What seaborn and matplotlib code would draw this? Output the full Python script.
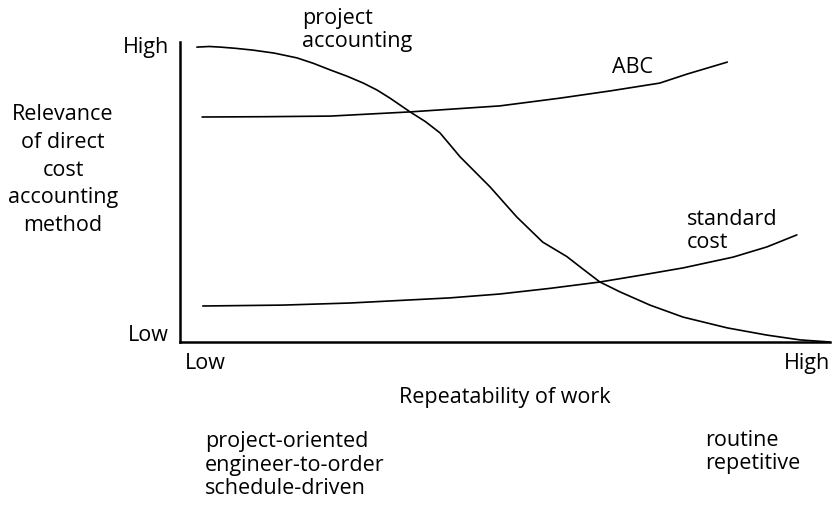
# relevância dos métodos de custeio vs repetibilidade do trabalho

import matplotlib
matplotlib.use("Agg")
import matplotlib.pyplot as plt
import seaborn as sns

# Curvas (x: 0-100 repetibilidade, y: 0-100 relevância)
proj_x = [2.6, 4.5, 6.2, 8.5, 11.2, 14.5, 18, 20.5, 23.1, 25.7, 28.2, 30.3, 32.3, 35.4,
          37.8, 40, 43.1, 47.7, 51.8, 55.8, 59.5, 62, 64.6, 67.7, 72.3, 77.4,
          84.2, 90.3, 95.4, 100]
proj_y = [98.3, 98.5, 98.3, 97.9, 97.3, 96.3, 94.7, 92.9, 90.7, 88.6, 86.3, 84, 81.3, 76.7,
          73.4, 69.7, 61.7, 51.7, 41.7, 33.3, 28.5, 24.3, 20, 16.7, 12.3, 8.3,
          4.7, 2.3, 0.7, 0]

abc_x = [3.4, 13, 23.1, 35.4, 49.2, 58.5, 66.2, 73.8, 78, 84.2]
abc_y = [75, 75.1, 75.3, 76.7, 78.7, 81.3, 83.7, 86.3, 89.3, 93.3]

std_x = [3.5, 15.8, 26.2, 41.5, 49.2, 57, 64.6, 71, 77.4, 85.1, 90.3, 94.9]
std_y = [12, 12.3, 13, 14.7, 16, 17.9, 20, 22.3, 24.7, 28.3, 31.7, 35.7]

tick_labels = ["Low", "High"]

sns.set_style("white")
plt.rcParams["font.family"] = ["Open Sans", "DejaVu Sans"]
plt.rcParams["text.color"] = "black"
plt.rcParams["xtick.color"] = "black"
plt.rcParams["ytick.color"] = "black"
plt.rcParams["axes.labelcolor"] = "black"

fig = plt.figure(figsize=(8.32, 5.13), dpi=100)
ax = fig.add_axes([180 / 832, 1 - 342 / 513, 650 / 832, 300 / 513])

for xs, ys in [(proj_x, proj_y), (abc_x, abc_y), (std_x, std_y)]:
    sns.lineplot(x=xs, y=ys, ax=ax, color="black", linewidth=1.2, sort=False)

ax.set_xlim(0, 100)
ax.set_ylim(0, 100)
sns.despine(ax=ax)
for s in ["left", "bottom"]:
    ax.spines[s].set_linewidth(1.8)
    ax.spines[s].set_color("black")

fs = 15.5

# Rótulos dos eixos
ax.set_xticks([0.8, 100])
ax.set_xticklabels(tick_labels, fontsize=fs)
ax.get_xticklabels()[0].set_ha("left")
ax.get_xticklabels()[1].set_ha("right")
ax.set_yticks([3, 99])
ax.set_yticklabels(tick_labels, fontsize=fs)
ax.tick_params(length=0, pad=8)

ax.set_xlabel("Repeatability of work", fontsize=fs, labelpad=9)
fig.text(63 / 832, 1 - 170 / 513, "Relevance\nof direct\ncost\naccounting\nmethod",
         ha="center", va="center", fontsize=fs, linespacing=1.42)

# Nomes das curvas
ax.text(18.8, 104, "project\naccounting", fontsize=fs, va="center",
        linespacing=1.15, clip_on=False)
ax.text(66.5, 91.5, "ABC", fontsize=fs, va="center")
ax.text(78, 37, "standard\ncost", fontsize=fs, va="center", linespacing=1.15)

# Exemplos de tipos de trabalho
fig.text(205 / 832, 1 - 465 / 513, "project-oriented\nengineer-to-order\nschedule-driven",
         ha="left", va="center", fontsize=fs, linespacing=1.15)
fig.text(705 / 832, 1 - 452 / 513, "routine\nrepetitive",
         ha="left", va="center", fontsize=fs, linespacing=1.15)

fig.savefig("out.png", dpi=100)
